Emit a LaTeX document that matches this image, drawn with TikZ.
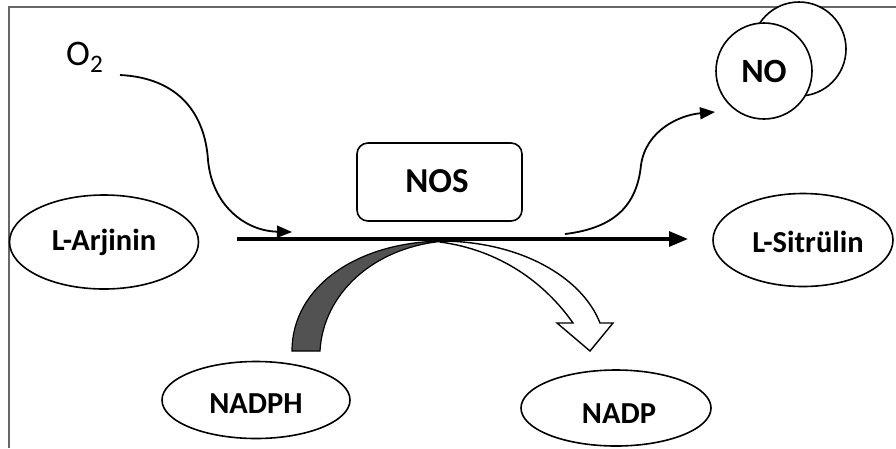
\documentclass[tikz,border=0pt]{standalone}
\usepackage{fontspec}
\setmainfont{Carlito}
\usetikzlibrary{arrows.meta,shapes.geometric}
\begin{document}
\begin{tikzpicture}[x=1pt,y=-1pt,
  oval/.style={draw,line width=1.6pt,ellipse,minimum width=#1,inner sep=0pt},
  lbl/.style={font=\bfseries\fontsize{30.5}{31}\selectfont},
  curvearrow/.style={line width=1.8pt,-{Triangle[length=15pt,width=12pt]}},
  ball/.style={draw,line width=1.6pt,circle,fill=white,inner sep=0pt}]
\useasboundingbox (0,0) rectangle (896,448);
% frame
\draw[line width=2pt,draw=black!60] (9,448) -- (9,7) -- (896,7);
% NO circles
\node[ball,minimum size=94pt] (noback) at (799,49) {};
\node[ball,minimum size=96pt] (no) at (764,71) {};
\node[font=\bfseries\fontsize{34}{35}\selectfont] (notext) at (no.center) {NO};
% ovals
\node[oval=189pt,minimum height=94pt] (arg) at (104,242) {};
\node[lbl] (argtext) at (104,242) {L-Arjinin};
\node[oval=180pt,minimum height=93pt] (cit) at (803,240) {};
\node[lbl] (cittext) at (808,242) {L-Sitrülin};
\node[oval=188pt,minimum height=77pt] (nadph) at (256,400) {};
\node[lbl] (nadphtext) at (256,404) {NADPH};
\node[oval=190pt,minimum height=76pt] (nadp) at (616,408) {};
\node[lbl] (nadptext) at (619,414) {NADP};
% NOS box
\node[draw,line width=1.6pt,rounded corners=11pt,minimum width=165pt,minimum height=78pt] (nos) at (439.5,182) {};
\node[font=\bfseries\fontsize{35}{36}\selectfont] (nostext) at (437,181) {NOS};
% O2
\node[font=\fontsize{36}{37}\selectfont,anchor=base west,inner sep=0pt] (o2) at (66,65) {O\textsubscript{2}};
% coordinates
\coordinate (mainstart) at (237,239);
\coordinate (mainend) at (688,239);
\coordinate (o2start) at (120,75);
\coordinate (o2end) at (292,232);
\coordinate (nostart) at (565,234);
\coordinate (noend) at (715,112);
% NADPH band (gray)
\fill[draw=black,line width=1.2pt,fill=black!68]
  (292,351) .. controls (292,285) and (360,241) .. (445,241)
  .. controls (372,247) and (323,295) .. (320,351) -- cycle;
% NADP band (white arrow)
\filldraw[draw=black,line width=1.4pt,fill=white]
  (440,241) .. controls (520,241) and (582,277) .. (600,323)
  -- (613,323) -- (590,351) -- (557,323) -- (573,323)
  .. controls (545,283) and (500,250) .. (440,242) -- cycle;
% main reaction arrow
\draw[line width=3.2pt,-{Triangle[length=19pt,width=15pt]}] (mainstart) -- (mainend);
% O2 arrow
\draw[curvearrow] (o2start) .. controls (180,78) and (205,115) .. (208,160)
  .. controls (212,205) and (245,231) .. (o2end);
% NO arrow
\draw[curvearrow] (nostart) .. controls (615,228) and (637,205) .. (641,165)
  .. controls (646,130) and (680,115) .. (noend);
\end{tikzpicture}
\end{document}
